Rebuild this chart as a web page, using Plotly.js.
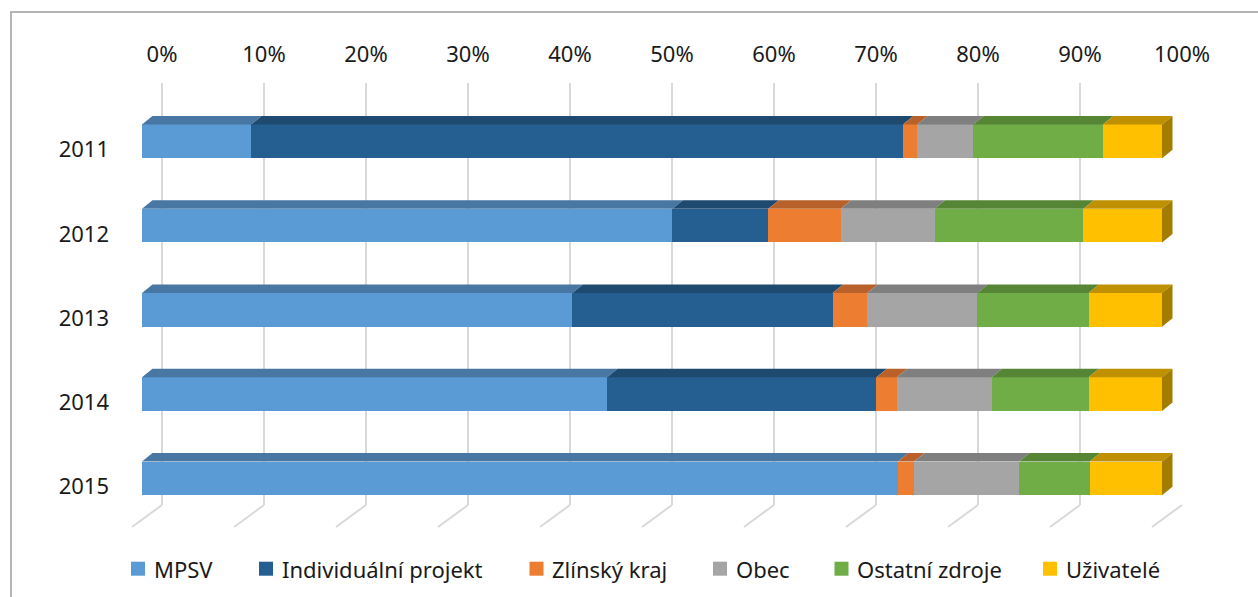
<!DOCTYPE html>
<html>
<head>
<meta charset="utf-8">
<script src="https://cdn.plot.ly/plotly-3.0.1.min.js"></script>
<style>
  html, body { margin: 0; padding: 0; background: #ffffff; }
  #wrap { position: relative; width: 1258px; height: 597px; overflow: hidden; }
  #chart { position: absolute; left: 0; top: 0; width: 1258px; height: 597px; }
  #frame { position: absolute; left: 10px; top: 11px; width: 1400px; height: 700px;
           border-left: 2px solid #b5b5b5; border-top: 2px solid #b5b5b5; pointer-events: none; }
</style>
</head>
<body>
<div id="wrap">
  <div id="chart"></div>
  <div id="frame"></div>
</div>
<script>
// ---- data ----
const years = ['2011', '2012', '2013', '2014', '2015'];
const seriesNames = ['MPSV', 'Individuální projekt', 'Zlínský kraj', 'Obec', 'Ostatní zdroje', 'Uživatelé'];
const mpsv                = [10.7, 52.0, 42.2, 45.6, 74.1];
const individualniProjekt = [63.9,  9.4, 25.5, 26.4,  0.0];
const zlinskyKraj         = [ 1.4,  7.1,  3.4,  2.0,  1.6];
const obec                = [ 5.5,  9.2, 10.8,  9.3, 10.3];
const ostatniZdroje       = [12.7, 14.6, 10.9,  9.5,  6.9];
const uzivatele           = [ 5.8,  7.7,  7.2,  7.2,  7.1];
const tickValues = [0, 10, 20, 30, 40, 50, 60, 70, 80, 90, 100];

// ---- styles ----
const frontColors = ['#5b9bd5', '#255e91', '#ed7d31', '#a5a5a5', '#70ad47', '#ffc000'];
const topColors   = ['#4877a3', '#1f4a70', '#b9612a', '#7f7f7f', '#568536', '#bf9000'];
const sideColor   = '#a37c00';
const FONT = '"Noto Sans", "Open Sans", sans-serif';
const TXT = '#1a1a1a';

const seriesValues = [mpsv, individualniProjekt, zlinskyKraj, obec, ostatniZdroje, uzivatele];
const yIdx = years.map((_, i) => i);

// geometry (pixels of the 1258x597 canvas)
const pxPerUnit = 10.2;      // pixels per 1 %
const zeroPx = 142;          // pixel of 0 % on the bar front face
const plotL = 122, plotR = 1183, plotT = 83, plotB = 505;
const depthShift = 20 / pxPerUnit;       // back wall offset (in % units)
const barW = 0.40;                        // bar thickness (category units)
const faceDx = 10.5 / pxPerUnit;          // top face offset x (in % units)
const faceDy = 8.5 / 84.26;               // top face offset y (category units)
const yMin = -(141.3 - plotT) / 84.26;
const yMax = 4 + (plotB - 478.35) / 84.26;

// ---- traces ----
const traces = seriesNames.map((name, s) => ({
  type: 'bar',
  orientation: 'h',
  name: name,
  x: seriesValues[s],
  y: yIdx,
  width: barW,
  marker: { color: frontColors[s], line: { width: 0 } },
  hovertemplate: name + ': %{x:.1f} %<extra></extra>',
  showlegend: false
}));

// ---- 3D faces computed from the data ----
const shapes = [];
years.forEach((yr, i) => {
  const total = seriesValues.reduce((a, arr) => a + arr[i], 0);
  let cum = 0;
  const yT = i - barW / 2, yB = i + barW / 2;
  seriesValues.forEach((arr, s) => {
    const x0 = cum / total * 100;
    cum += arr[i];
    const x1 = cum / total * 100;
    if (x1 - x0 > 1e-9) {
      shapes.push({
        type: 'path', xref: 'x', yref: 'y', layer: 'above',
        path: `M${x0},${yT} L${x1},${yT} L${x1 + faceDx},${yT - faceDy} L${x0 + faceDx},${yT - faceDy} Z`,
        fillcolor: topColors[s], line: { width: 0 }
      });
    }
    if (s === seriesValues.length - 1) {
      shapes.push({
        type: 'path', xref: 'x', yref: 'y', layer: 'above',
        path: `M${x1},${yT} L${x1 + faceDx},${yT - faceDy} L${x1 + faceDx},${yB - faceDy} L${x1},${yB} Z`,
        fillcolor: sideColor, line: { width: 0 }
      });
    }
  });
});

// floor lines continuing the back-wall gridlines
tickValues.forEach(v => {
  shapes.push({
    type: 'line', xref: 'x', yref: 'paper', layer: 'below',
    xsizemode: 'pixel', xanchor: v + depthShift, x0: 0, x1: -30,
    ysizemode: 'pixel', yanchor: 0, y0: 0, y1: -22,
    line: { color: '#d9d9d9', width: 2 }
  });
});

// ---- custom legend (Excel style) ----
const plotW = plotR - plotL, plotH = plotB - plotT;
const pX = px => (px - plotL) / plotW;
const pY = py => (plotB - py) / plotH;
const legendSquareLeft = [131, 259, 529.5, 713, 834.5, 1043];
const legendY = 568.7;
const annotations = [];
seriesNames.forEach((name, s) => {
  shapes.push({
    type: 'rect', xref: 'paper', yref: 'paper',
    xsizemode: 'pixel', xanchor: pX(legendSquareLeft[s]), x0: 0, x1: 14,
    ysizemode: 'pixel', yanchor: pY(legendY), y0: -7, y1: 7,
    fillcolor: frontColors[s], line: { width: 0 }
  });
  annotations.push({
    xref: 'paper', yref: 'paper', x: pX(legendSquareLeft[s] + 20.5), y: pY(legendY),
    xanchor: 'left', yanchor: 'middle', showarrow: false, text: name,
    font: { family: FONT, size: 22, color: TXT }
  });
});

const layout = {
  width: 1258, height: 597,
  margin: { l: plotL, r: 1258 - plotR, t: plotT, b: 597 - plotB, pad: 0 },
  paper_bgcolor: '#ffffff', plot_bgcolor: 'rgba(0,0,0,0)',
  barmode: 'stack', barnorm: 'percent',
  font: { family: FONT, size: 22, color: TXT },
  showlegend: false,
  xaxis: {
    side: 'top',
    range: [-(zeroPx - plotL) / pxPerUnit, (plotR - zeroPx) / pxPerUnit],
    tickmode: 'array',
    tickvals: tickValues.map(v => v + depthShift),
    ticktext: tickValues.map(v => v + '%'),
    showgrid: true, gridcolor: '#d9d9d9', gridwidth: 2,
    zeroline: false, showline: false, ticks: '',
    ticklabelstandoff: 16,
    tickfont: { family: FONT, size: 22, color: TXT },
    fixedrange: true
  },
  yaxis: {
    range: [yMax, yMin],
    tickmode: 'array',
    tickvals: yIdx.map(i => i + 0.1),
    ticktext: years,
    showgrid: false, zeroline: false, showline: false, ticks: '',
    ticklabelstandoff: 12,
    tickfont: { family: FONT, size: 22, color: TXT },
    fixedrange: true
  },
  shapes: shapes,
  annotations: annotations
};

Plotly.newPlot('chart', traces, layout, { displayModeBar: false, staticPlot: true });
</script>
</body>
</html>
